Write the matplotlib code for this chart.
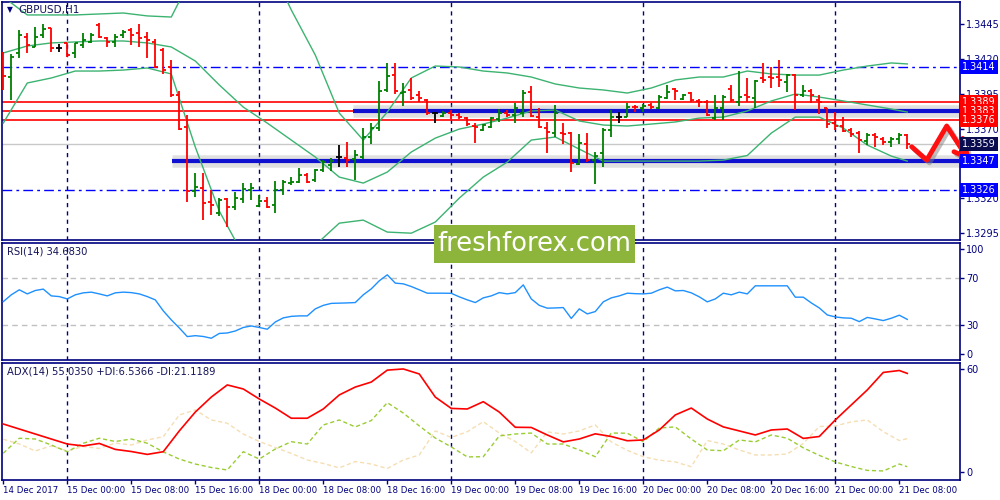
import numpy as np
import pandas as pd
import matplotlib
matplotlib.use("Agg")
import matplotlib.pyplot as plt
import matplotlib.patheffects as pe
from matplotlib.patches import Rectangle

# GBPUSD H1 bars, 14 Dec 16:00 .. 21 Dec 09:00 (weekend skipped)
opens = [
    1.34242, 1.34069, 1.34242, 1.34361, 1.34289, 1.34373, 1.34421, 1.34277, 1.34313, 1.34242,
    1.34301, 1.34325, 1.34445, 1.34349, 1.34325, 1.34373, 1.34409, 1.34385, 1.34361, 1.34325,
    1.34265, 1.34146, 1.33942, 1.33714, 1.33254, 1.33271, 1.33175, 1.33096, 1.33192, 1.33139,
    1.33192, 1.33259, 1.33144, 1.33180, 1.33151, 1.33259, 1.33307, 1.33319, 1.33367, 1.33331,
    1.33403, 1.33439, 1.33499, 1.33487, 1.33480, 1.33499, 1.33643, 1.33702, 1.33978, 1.34086,
    1.33954, 1.33978, 1.33942, 1.33906, 1.33810, 1.33791, 1.33810, 1.33798, 1.33774, 1.33719,
    1.33690, 1.33714, 1.33767, 1.33810, 1.33798, 1.33815, 1.33966, 1.33786, 1.33702, 1.33667,
    1.33667, 1.33667, 1.33446, 1.33590, 1.33475, 1.33523, 1.33690, 1.33786, 1.33782, 1.33858,
    1.33846, 1.33870, 1.33846, 1.33918, 1.33983, 1.33913, 1.33959, 1.33901, 1.33894, 1.33774,
    1.33846, 1.33983, 1.33894, 1.33942, 1.33918, 1.34062, 1.34074, 1.34069, 1.34038, 1.34086,
    1.33942, 1.33973, 1.33906, 1.33846, 1.33738, 1.33719, 1.33690, 1.33667, 1.33614, 1.33655,
    1.33623, 1.33607, 1.33623, 1.33655]
highs = [
    1.34254, 1.34234, 1.34409, 1.34385, 1.34428, 1.34452, 1.34421, 1.34309, 1.34313, 1.34318,
    1.34385, 1.34385, 1.34457, 1.34357, 1.34378, 1.34409, 1.34421, 1.34452, 1.34397, 1.34342,
    1.34277, 1.34194, 1.33973, 1.33798, 1.33384, 1.33384, 1.33259, 1.33199, 1.33199, 1.33247,
    1.33307, 1.33307, 1.33223, 1.33211, 1.33326, 1.33331, 1.33355, 1.33415, 1.33379, 1.33408,
    1.33475, 1.33487, 1.33583, 1.33607, 1.33547, 1.33702, 1.33743, 1.34043, 1.34174, 1.34174,
    1.34026, 1.34062, 1.33973, 1.33911, 1.33822, 1.33827, 1.33834, 1.33810, 1.33786, 1.33738,
    1.33734, 1.33782, 1.33839, 1.33834, 1.33882, 1.33978, 1.34007, 1.33846, 1.33750, 1.33870,
    1.33743, 1.33678, 1.33659, 1.33667, 1.33535, 1.33702, 1.33834, 1.33822, 1.33882, 1.33870,
    1.33877, 1.33882, 1.33942, 1.34014, 1.33990, 1.33949, 1.33966, 1.33911, 1.33906, 1.33942,
    1.33942, 1.34014, 1.34117, 1.34062, 1.34050, 1.34174, 1.34146, 1.34194, 1.34093, 1.34093,
    1.34014, 1.33983, 1.33942, 1.33846, 1.33822, 1.33782, 1.33702, 1.33686, 1.33667, 1.33667,
    1.33638, 1.33643, 1.33667, 1.33662]
lows = [
    1.33978, 1.33906, 1.34206, 1.34242, 1.34285, 1.34349, 1.34254, 1.34254, 1.34218, 1.34206,
    1.34277, 1.34313, 1.34349, 1.34289, 1.34289, 1.34349, 1.34301, 1.34289, 1.34206, 1.34134,
    1.34093, 1.33930, 1.33690, 1.33171, 1.33211, 1.33044, 1.33079, 1.33072, 1.32996, 1.33115,
    1.33163, 1.33187, 1.33139, 1.33127, 1.33091, 1.33223, 1.33295, 1.33312, 1.33307, 1.33319,
    1.33391, 1.33398, 1.33427, 1.33427, 1.33331, 1.33480, 1.33587, 1.33683, 1.33966, 1.33949,
    1.33863, 1.33906, 1.33894, 1.33798, 1.33743, 1.33782, 1.33767, 1.33767, 1.33719, 1.33599,
    1.33686, 1.33702, 1.33750, 1.33782, 1.33743, 1.33786, 1.33786, 1.33702, 1.33523, 1.33643,
    1.33590, 1.33391, 1.33439, 1.33463, 1.33300, 1.33422, 1.33638, 1.33743, 1.33782, 1.33817,
    1.33822, 1.33839, 1.33839, 1.33911, 1.33906, 1.33906, 1.33894, 1.33858, 1.33793, 1.33762,
    1.33762, 1.33894, 1.33863, 1.33894, 1.33846, 1.34031, 1.33990, 1.33997, 1.33966, 1.33834,
    1.33930, 1.33882, 1.33805, 1.33702, 1.33690, 1.33678, 1.33643, 1.33528, 1.33583, 1.33571,
    1.33583, 1.33571, 1.33587, 1.33551]
closes = [
    1.34079, 1.34218, 1.34373, 1.34301, 1.34357, 1.34414, 1.34277, 1.34277, 1.34230, 1.34313,
    1.34337, 1.34373, 1.34361, 1.34325, 1.34361, 1.34397, 1.34373, 1.34349, 1.34337, 1.34146,
    1.34122, 1.33942, 1.33695, 1.33252, 1.33283, 1.33168, 1.33151, 1.33187, 1.33135, 1.33199,
    1.33264, 1.33271, 1.33180, 1.33139, 1.33259, 1.33319, 1.33319, 1.33367, 1.33319, 1.33403,
    1.33463, 1.33470, 1.33499, 1.33475, 1.33511, 1.33638, 1.33702, 1.33973, 1.34079, 1.33973,
    1.33966, 1.33918, 1.33918, 1.33810, 1.33810, 1.33815, 1.33798, 1.33782, 1.33734, 1.33714,
    1.33726, 1.33774, 1.33810, 1.33798, 1.33846, 1.33954, 1.33791, 1.33710, 1.33678, 1.33810,
    1.33659, 1.33456, 1.33595, 1.33475, 1.33504, 1.33690, 1.33786, 1.33786, 1.33853, 1.33853,
    1.33863, 1.33858, 1.33925, 1.33966, 1.33973, 1.33942, 1.33906, 1.33894, 1.33798, 1.33846,
    1.33925, 1.33906, 1.33930, 1.33930, 1.34045, 1.34050, 1.34062, 1.34050, 1.34086, 1.33942,
    1.33973, 1.33942, 1.33894, 1.33734, 1.33719, 1.33686, 1.33662, 1.33619, 1.33655, 1.33638,
    1.33607, 1.33623, 1.33655, 1.33590]

# Bollinger bands, read every 3rd bar (+ last bar)
bb_idx = list(range(0, 112, 3)) + [113]
bb_upper = [1.34646, 1.34517, 1.34517, 1.34517, 1.34524, 1.34531, 1.34510, 1.34502, 1.34840, 1.35128,
            1.35200, 1.34912, 1.34553, 1.34229, 1.33812, 1.33618, 1.33819, 1.34064, 1.34150, 1.34143,
            1.34114, 1.34100, 1.34071, 1.34021, 1.33992, 1.33978, 1.33956, 1.33992, 1.34050, 1.34071,
            1.34071, 1.34114, 1.34093, 1.34085, 1.34085, 1.34121, 1.34150, 1.34172, 1.34165]
bb_mid = [1.34244, 1.34294, 1.34316, 1.34323, 1.34330, 1.34330, 1.34316, 1.34287, 1.34186, 1.34014,
          1.33855, 1.33740, 1.33618, 1.33496, 1.33352, 1.33309, 1.33388, 1.33532, 1.33632, 1.33697,
          1.33733, 1.33776, 1.33827, 1.33834, 1.33755, 1.33726, 1.33719, 1.33733, 1.33748, 1.33776,
          1.33783, 1.33827, 1.33899, 1.33949, 1.33927, 1.33899, 1.33870, 1.33841, 1.33819]
bb_lower = [1.33740, 1.34028, 1.34064, 1.34114, 1.34114, 1.34121, 1.34136, 1.34093, 1.33568, 1.33108,
            1.32791, 1.32683, 1.32741, 1.32863, 1.33021, 1.33043, 1.32957, 1.32949, 1.33029, 1.33201,
            1.33352, 1.33460, 1.33618, 1.33640, 1.33553, 1.33467, 1.33467, 1.33467, 1.33467, 1.33467,
            1.33474, 1.33507, 1.33668, 1.33783, 1.33783, 1.33704, 1.33582, 1.33503, 1.33467]

# RSI(14), one value per bar
rsi = [49.9, 55.7, 60.0, 56.5, 59.4, 60.6, 54.8, 54.2, 52.2, 55.7,
       57.4, 58.0, 56.5, 54.8, 57.4, 58.0, 57.6, 56.5, 54.2, 51.4,
       42.0, 34.3, 27.4, 20.0, 20.8, 20.1, 18.6, 22.7, 23.1, 24.8,
       27.8, 29.1, 27.8, 26.3, 32.5, 36.0, 37.3, 37.7, 37.7, 43.7,
       46.7, 48.4, 48.6, 48.8, 49.1, 55.7, 60.8, 67.7, 72.8, 65.7,
       65.1, 62.8, 60.0, 57.1, 57.1, 57.1, 57.0, 54.0, 51.4, 49.1,
       53.1, 54.8, 57.6, 56.5, 57.6, 64.2, 52.2, 46.7, 44.3, 44.5,
       44.8, 35.5, 43.7, 39.4, 41.4, 49.7, 53.1, 54.8, 57.1, 56.7,
       56.5, 57.1, 60.0, 62.3, 59.1, 59.4, 57.4, 54.0, 49.7, 52.2,
       57.1, 55.7, 58.0, 56.5, 63.4, 63.4, 63.4, 63.4, 63.4, 53.7,
       53.7, 48.8, 44.5, 38.5, 36.8, 36.0, 35.7, 32.8, 36.4, 35.1,
       33.7, 35.7, 38.3, 34.7]

# ADX(14), read every 2nd bar (+ last bar)
adx_idx = list(range(0, 114, 2)) + [113]
adx = [28.7, 26.1, 23.5, 20.9, 18.3, 17.3, 18.6, 15.5, 14.4, 12.9,
       14.3, 25.1, 34.9, 42.7, 49.0, 46.9, 41.7, 37.0, 31.7, 31.7,
       36.5, 43.8, 47.9, 50.5, 56.7, 57.3, 54.7, 42.7, 36.8, 36.5,
       40.3, 34.9, 27.0, 26.9, 23.0, 19.4, 20.9, 23.6, 22.2, 20.0,
       20.4, 25.6, 33.4, 37.0, 31.3, 27.2, 25.1, 23.0, 25.6, 26.1,
       21.2, 22.2, 30.8, 38.6, 46.4, 55.5, 56.5, 55.0]
plus_di = [13.5, 21.3, 20.9, 17.8, 14.3, 18.7, 21.3, 19.6, 20.9, 18.7,
           14.2, 10.5, 7.9, 6.1, 4.8, 14.3, 10.5, 15.7, 19.5, 18.3,
           28.2, 30.8, 27.2, 30.5, 39.8, 34.4, 27.7, 21.4, 16.8, 11.6,
           11.7, 22.5, 23.5, 24.0, 18.3, 18.3, 15.2, 11.7, 24.0, 23.9,
           19.5, 26.6, 27.2, 20.9, 15.2, 14.8, 20.4, 19.4, 23.0, 21.3,
           16.3, 12.4, 9.0, 6.6, 4.6, 4.3, 7.9, 6.5]
minus_di = [20.8, 18.3, 14.7, 17.3, 14.7, 17.0, 16.0, 18.8, 17.8, 20.4,
            22.1, 33.4, 36.0, 30.8, 29.1, 23.5, 19.6, 16.5, 13.4, 10.0,
            8.2, 5.9, 9.2, 7.9, 5.6, 10.0, 12.6, 25.1, 21.7, 24.7,
            29.9, 24.0, 19.6, 13.7, 24.6, 23.5, 25.1, 28.2, 19.4, 15.0,
            11.7, 9.9, 9.0, 6.5, 20.1, 18.3, 15.2, 12.6, 12.6, 13.1,
            18.6, 27.4, 27.7, 29.8, 30.8, 24.7, 20.1, 21.1]

# levels drawn on the chart
red_levels = [1.3389, 1.3383, 1.3376]
dashdot_levels = [1.3414, 1.3326]
support_levels = [1.3383, 1.3347]
support_start = [43.7, 21.1]          # bar where each thick line starts
bid = 1.3359

# hand drawn forecast zigzag (bar position, price)
path_x = [113.55, 115.43, 117.93, 120.45]
path_y = [1.33570, 1.33474, 1.33719, 1.33495]
head_x = [118.84, 120.6, 119.93]
head_y = [1.33534, 1.33489, 1.33630]

price_ticks = [1.3445, 1.3420, 1.3395, 1.3370, 1.3320, 1.3295]

times = pd.date_range("2017-12-14 16:00", "2017-12-21 09:00", freq="h")
times = times[times.dayofweek < 5]

NAVY = "#000080"
TXT = "#14145a"
W, H = 1000, 500
plt.rcParams["font.family"] = ["DejaVu Sans"]


def fbox(x0, y0, x1, y1):
    return [x0 / W, 1 - y1 / H, (x1 - x0) / W, (y1 - y0) / H]


fig = plt.figure(figsize=(10, 5), dpi=100)
ax1 = fig.add_axes(fbox(2, 2, 960, 240))
ax2 = fig.add_axes(fbox(2, 243, 960, 360))
ax3 = fig.add_axes(fbox(2, 363, 960, 480))

x = np.arange(len(opens))
o, h, l, c = map(np.array, (opens, highs, lows, closes))
xl = (-0.16, 119.59)

for ax in (ax1, ax2, ax3):
    ax.set_xlim(*xl)
    for s in ax.spines.values():
        s.set_color(NAVY)
        s.set_linewidth(1.2)
    ax.yaxis.tick_right()
    ax.tick_params(axis="y", direction="out", length=3, width=1, color=NAVY,
                   labelcolor=NAVY, labelsize=7, pad=1.5)
    ax.tick_params(axis="x", bottom=False, labelbottom=False)
    # day separators
    for d in np.where(times.hour == 0)[0]:
        ax.axvline(d, color=NAVY, lw=1, ls=(0, (3, 3)), zorder=1)

# ---- price panel
ax1.set_ylim(1.32900, 1.34610)
for lv in dashdot_levels:
    ax1.axhline(lv, color="#0000ff", lw=1, ls=(0, (7, 3, 2, 3)), zorder=1)
ax1.axhline(bid, color="#c8c8c8", lw=1, zorder=1)
for lv in red_levels:
    ax1.axhline(lv, color="#ff0000", lw=1.2, zorder=2)
for lv, st in zip(support_levels, support_start):
    ax1.hlines(lv - 0.00002, st, xl[1], color="#a8a8a8", lw=9, alpha=0.35, zorder=2)
    ax1.hlines(lv, st, xl[1], color="#1010d0", lw=3, zorder=3)

ax1.plot(bb_idx, bb_upper, color="#3cb371", lw=1, zorder=3)
ax1.plot(bb_idx, bb_mid, color="#3cb371", lw=1, zorder=3)
ax1.plot(bb_idx, bb_lower, color="#3cb371", lw=1, zorder=3)

col = np.where(c > o, "#007f00", np.where(c < o, "#ff0000", "black"))
ax1.vlines(x, l, h, colors=col, lw=1.3, zorder=4)
ax1.hlines(o, x - 0.38, x, colors=col, lw=1.3, zorder=4)
ax1.hlines(c, x, x + 0.38, colors=col, lw=1.3, zorder=4)

shadow = [pe.SimpleLineShadow(offset=(2, -2), shadow_color="gray", alpha=0.5), pe.Normal()]
ax1.plot(path_x, path_y, color="#ff1010", lw=3.5, solid_capstyle="round",
         solid_joinstyle="round", clip_on=False, zorder=8, path_effects=shadow)
ax1.plot(head_x, head_y, color="#ff1010", lw=3.5, solid_capstyle="round",
         solid_joinstyle="round", clip_on=False, zorder=8, path_effects=shadow)

ax1.set_yticks(price_ticks)
ax1.set_yticklabels([f"{p:.4f}" for p in price_ticks])


def price_tag(y, bg):
    ax1.text(1.0025, y, f"{y:.4f}", transform=ax1.get_yaxis_transform(), ha="left",
             va="center", fontsize=7, color="white", clip_on=False, zorder=9,
             bbox=dict(boxstyle="square,pad=0.2", fc=bg, ec="none"))


price_tag(1.3414, "#0000ff")
for lv in red_levels:
    price_tag(lv, "#ff0000")
price_tag(bid, "#0b0b50")
price_tag(1.3347, "#0000ff")
price_tag(1.3326, "#0000ff")

# ---- RSI panel
ax2.set_ylim(0, 100)
for lv in (70, 30):
    ax2.axhline(lv, color="#c0c0c0", lw=1, ls=(0, (4, 3)), zorder=1)
ax2.plot(x, rsi, color="#1e90ff", lw=1, zorder=3)
ax2.set_yticks([5.5, 30, 70, 95])
ax2.set_yticklabels(["0", "30", "70", "100"])

# ---- ADX panel
ax3.set_ylim(-0.4, 60.4)
ax3.plot(adx_idx, minus_di, color="#f5deb3", lw=1, ls=(0, (3, 2)), zorder=2)
ax3.plot(adx_idx, plus_di, color="#9acd32", lw=1, ls=(0, (3, 2)), zorder=2)
ax3.plot(adx_idx, adx, color="#ff0000", lw=1.2, zorder=3)
ax3.set_yticks([3.8, 57.3])
ax3.set_yticklabels(["0", "60"])

tick_pos = list(range(0, len(times), 8))
tick_lab = [times[0].strftime("%d %b %Y")] + [times[i].strftime("%d %b %H:%M") for i in tick_pos[1:]]
ax3.set_xticks(tick_pos)
ax3.set_xticklabels(tick_lab, ha="left")
ax3.tick_params(axis="x", bottom=True, labelbottom=True, direction="out", length=3,
                width=1, color=NAVY, labelcolor=NAVY, labelsize=6.2, pad=1.5)

# ---- texts
fig.text(7 / W, 1 - 10 / H, "\u25bc", fontsize=5.5, color=NAVY, va="center")
fig.text(18 / W, 1 - 10 / H, "GBPUSD,H1", fontsize=7.5, color=TXT, va="center")
fig.text(7 / W, 1 - 251 / H, "RSI(14) 34.6830", fontsize=7.2, color=TXT, va="center")
fig.text(7 / W, 1 - 371 / H, "ADX(14) 55.0350 +DI:6.5366 -DI:21.1189", fontsize=7.2,
         color=TXT, va="center")

# watermark
fig.add_artist(Rectangle((434 / W, 1 - 263 / H), 201 / W, 38 / H, transform=fig.transFigure,
                         fc="#8db53c", ec="none", zorder=20))
fig.text(534.5 / W, 1 - 244 / H, "freshforex.com", fontsize=18.5, color="white",
         ha="center", va="center", zorder=21)

fig.savefig("out.png", dpi=100)
